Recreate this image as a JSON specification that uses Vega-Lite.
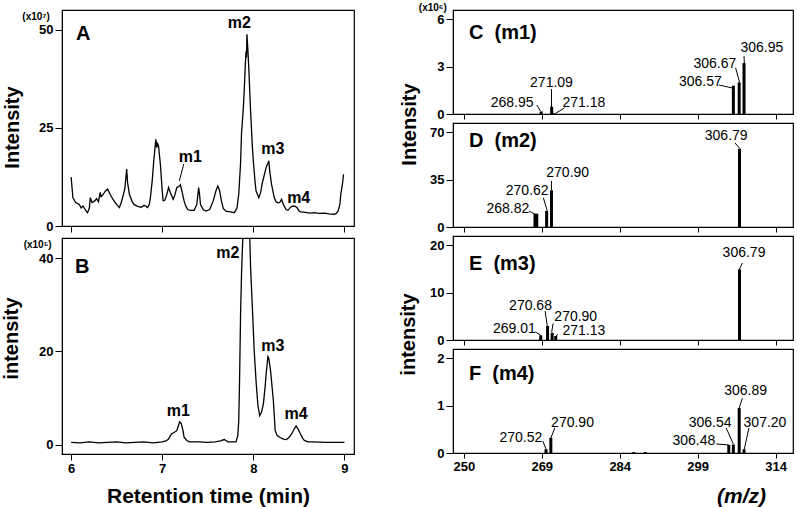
{
  "$schema": "https://vega.github.io/schema/vega-lite/v6.json",
  "background": "white",
  "padding": {"left": 0, "top": 2, "right": 0, "bottom": 0},
  "config": {
    "view": {"stroke": "black", "strokeWidth": 1.2},
    "axis": {"domainColor": "black", "tickColor": "black", "labelColor": "black", "titleColor": "black", "labelFont": "Liberation Sans", "titleFont": "Liberation Sans", "labelFontWeight": "bold", "labelFontSize": 13, "titleFontWeight": "bold", "titleFontSize": 20, "grid": false, "tickSize": 7, "labelPadding": 2},
    "text": {"font": "Liberation Sans", "color": "black"}
  },
  "datasets": {
    "trace": [
      {"panel":"A","x":6.00,"y":12.5},{"panel":"A","x":6.02,"y":7.2},{"panel":"A","x":6.05,"y":6.0},{"panel":"A","x":6.09,"y":5.5},{"panel":"A","x":6.11,"y":4.6},{"panel":"A","x":6.13,"y":5.1},{"panel":"A","x":6.16,"y":4.0},{"panel":"A","x":6.18,"y":3.4},{"panel":"A","x":6.20,"y":4.5},{"panel":"A","x":6.21,"y":7.2},{"panel":"A","x":6.23,"y":6.0},{"panel":"A","x":6.26,"y":6.4},{"panel":"A","x":6.28,"y":7.0},{"panel":"A","x":6.30,"y":6.2},{"panel":"A","x":6.32,"y":8.6},{"panel":"A","x":6.33,"y":7.5},{"panel":"A","x":6.35,"y":8.0},{"panel":"A","x":6.38,"y":9.0},{"panel":"A","x":6.40,"y":9.4},{"panel":"A","x":6.42,"y":8.5},{"panel":"A","x":6.44,"y":7.6},{"panel":"A","x":6.46,"y":6.8},{"panel":"A","x":6.49,"y":5.8},{"panel":"A","x":6.51,"y":5.2},{"panel":"A","x":6.53,"y":4.7},{"panel":"A","x":6.55,"y":6.0},{"panel":"A","x":6.57,"y":7.7},{"panel":"A","x":6.59,"y":9.5},{"panel":"A","x":6.61,"y":14.5},{"panel":"A","x":6.62,"y":11.0},{"panel":"A","x":6.64,"y":8.1},{"panel":"A","x":6.67,"y":6.2},{"panel":"A","x":6.69,"y":5.5},{"panel":"A","x":6.73,"y":5.0},{"panel":"A","x":6.77,"y":4.8},{"panel":"A","x":6.80,"y":5.3},{"panel":"A","x":6.84,"y":4.7},{"panel":"A","x":6.86,"y":5.6},{"panel":"A","x":6.87,"y":7.2},{"panel":"A","x":6.89,"y":11.5},{"panel":"A","x":6.91,"y":17.4},{"panel":"A","x":6.93,"y":22.1},{"panel":"A","x":6.94,"y":20.0},{"panel":"A","x":6.95,"y":21.0},{"panel":"A","x":6.96,"y":20.4},{"panel":"A","x":6.97,"y":18.0},{"panel":"A","x":6.98,"y":15.7},{"panel":"A","x":7.00,"y":9.0},{"panel":"A","x":7.01,"y":6.4},{"panel":"A","x":7.03,"y":6.6},{"panel":"A","x":7.05,"y":8.0},{"panel":"A","x":7.07,"y":9.8},{"panel":"A","x":7.09,"y":8.5},{"panel":"A","x":7.12,"y":6.8},{"panel":"A","x":7.14,"y":8.0},{"panel":"A","x":7.16,"y":9.8},{"panel":"A","x":7.18,"y":10.0},{"panel":"A","x":7.20,"y":10.5},{"panel":"A","x":7.22,"y":8.5},{"panel":"A","x":7.24,"y":6.4},{"panel":"A","x":7.26,"y":5.0},{"panel":"A","x":7.28,"y":4.2},{"panel":"A","x":7.31,"y":4.0},{"panel":"A","x":7.35,"y":4.0},{"panel":"A","x":7.38,"y":5.5},{"panel":"A","x":7.40,"y":9.8},{"panel":"A","x":7.41,"y":8.0},{"panel":"A","x":7.42,"y":5.5},{"panel":"A","x":7.45,"y":4.2},{"panel":"A","x":7.48,"y":3.8},{"panel":"A","x":7.52,"y":4.2},{"panel":"A","x":7.56,"y":6.4},{"panel":"A","x":7.59,"y":9.0},{"panel":"A","x":7.61,"y":10.2},{"panel":"A","x":7.63,"y":9.0},{"panel":"A","x":7.65,"y":6.4},{"panel":"A","x":7.67,"y":4.5},{"panel":"A","x":7.70,"y":3.8},{"panel":"A","x":7.75,"y":3.6},{"panel":"A","x":7.79,"y":3.4},{"panel":"A","x":7.82,"y":4.5},{"panel":"A","x":7.84,"y":8.1},{"panel":"A","x":7.86,"y":16.0},{"panel":"A","x":7.87,"y":23.4},{"panel":"A","x":7.89,"y":30.0},{"panel":"A","x":7.90,"y":34.4},{"panel":"A","x":7.91,"y":40.0},{"panel":"A","x":7.92,"y":44.6},{"panel":"A","x":7.925,"y":43.0},{"panel":"A","x":7.93,"y":48.9},{"panel":"A","x":7.94,"y":45.0},{"panel":"A","x":7.95,"y":40.4},{"panel":"A","x":7.97,"y":29.3},{"panel":"A","x":7.99,"y":20.0},{"panel":"A","x":8.00,"y":16.6},{"panel":"A","x":8.02,"y":11.0},{"panel":"A","x":8.03,"y":8.9},{"panel":"A","x":8.06,"y":7.2},{"panel":"A","x":8.08,"y":8.5},{"panel":"A","x":8.10,"y":11.1},{"panel":"A","x":8.12,"y":13.0},{"panel":"A","x":8.14,"y":14.9},{"panel":"A","x":8.16,"y":16.0},{"panel":"A","x":8.17,"y":16.6},{"panel":"A","x":8.18,"y":14.0},{"panel":"A","x":8.20,"y":10.6},{"panel":"A","x":8.23,"y":7.2},{"panel":"A","x":8.25,"y":6.2},{"panel":"A","x":8.27,"y":5.9},{"panel":"A","x":8.29,"y":6.0},{"panel":"A","x":8.31,"y":6.8},{"panel":"A","x":8.33,"y":5.5},{"panel":"A","x":8.36,"y":4.2},{"panel":"A","x":8.38,"y":4.0},{"panel":"A","x":8.41,"y":4.8},{"panel":"A","x":8.43,"y":5.1},{"panel":"A","x":8.46,"y":5.0},{"panel":"A","x":8.48,"y":4.7},{"panel":"A","x":8.50,"y":3.9},{"panel":"A","x":8.52,"y":3.6},{"panel":"A","x":8.57,"y":3.5},{"panel":"A","x":8.62,"y":3.3},{"panel":"A","x":8.67,"y":3.4},{"panel":"A","x":8.72,"y":3.2},{"panel":"A","x":8.78,"y":3.3},{"panel":"A","x":8.83,"y":3.1},{"panel":"A","x":8.89,"y":3.0},{"panel":"A","x":8.91,"y":3.2},{"panel":"A","x":8.93,"y":3.8},{"panel":"A","x":8.95,"y":5.5},{"panel":"A","x":8.96,"y":8.1},{"panel":"A","x":8.98,"y":11.0},{"panel":"A","x":8.99,"y":13.2},
      {"panel":"B","x":6.00,"y":0.5},{"panel":"B","x":6.1,"y":0.4},{"panel":"B","x":6.2,"y":0.6},{"panel":"B","x":6.3,"y":0.4},{"panel":"B","x":6.4,"y":0.5},{"panel":"B","x":6.5,"y":0.6},{"panel":"B","x":6.6,"y":0.4},{"panel":"B","x":6.7,"y":0.5},{"panel":"B","x":6.8,"y":0.6},{"panel":"B","x":6.9,"y":0.4},{"panel":"B","x":7.00,"y":0.6},{"panel":"B","x":7.04,"y":0.8},{"panel":"B","x":7.07,"y":1.2},{"panel":"B","x":7.10,"y":2.3},{"panel":"B","x":7.13,"y":2.6},{"panel":"B","x":7.16,"y":3.0},{"panel":"B","x":7.18,"y":4.2},{"panel":"B","x":7.19,"y":4.9},{"panel":"B","x":7.21,"y":4.5},{"panel":"B","x":7.23,"y":2.8},{"panel":"B","x":7.24,"y":1.6},{"panel":"B","x":7.27,"y":0.9},{"panel":"B","x":7.30,"y":0.6},{"panel":"B","x":7.40,"y":0.6},{"panel":"B","x":7.50,"y":0.5},{"panel":"B","x":7.58,"y":0.6},{"panel":"B","x":7.64,"y":0.8},{"panel":"B","x":7.68,"y":1.1},{"panel":"B","x":7.70,"y":0.9},{"panel":"B","x":7.72,"y":0.6},{"panel":"B","x":7.78,"y":0.6},{"panel":"B","x":7.81,"y":0.6},{"panel":"B","x":7.83,"y":2.0},{"panel":"B","x":7.84,"y":5.1},{"panel":"B","x":7.85,"y":15},{"panel":"B","x":7.86,"y":28},{"panel":"B","x":7.87,"y":36.3},{"panel":"B","x":7.88,"y":42},{"panel":"B","x":7.90,"y":52},{"panel":"B","x":7.92,"y":58},{"panel":"B","x":7.94,"y":55},{"panel":"B","x":7.96,"y":45},{"panel":"B","x":7.97,"y":38},{"panel":"B","x":7.99,"y":29.2},{"panel":"B","x":8.01,"y":20},{"panel":"B","x":8.03,"y":13.6},{"panel":"B","x":8.05,"y":8.5},{"panel":"B","x":8.07,"y":6.2},{"panel":"B","x":8.09,"y":7.0},{"panel":"B","x":8.11,"y":8.7},{"panel":"B","x":8.13,"y":12.5},{"panel":"B","x":8.14,"y":15.0},{"panel":"B","x":8.16,"y":18.9},{"panel":"B","x":8.17,"y":18.5},{"panel":"B","x":8.19,"y":15.7},{"panel":"B","x":8.21,"y":11.5},{"panel":"B","x":8.22,"y":9.4},{"panel":"B","x":8.24,"y":3.0},{"panel":"B","x":8.26,"y":2.0},{"panel":"B","x":8.29,"y":1.6},{"panel":"B","x":8.33,"y":1.2},{"panel":"B","x":8.36,"y":1.1},{"panel":"B","x":8.39,"y":1.5},{"panel":"B","x":8.42,"y":2.3},{"panel":"B","x":8.45,"y":3.4},{"panel":"B","x":8.47,"y":4.0},{"panel":"B","x":8.49,"y":3.4},{"panel":"B","x":8.51,"y":2.6},{"panel":"B","x":8.54,"y":1.4},{"panel":"B","x":8.56,"y":0.9},{"panel":"B","x":8.60,"y":0.6},{"panel":"B","x":8.65,"y":0.6},{"panel":"B","x":8.8,"y":0.5},{"panel":"B","x":9.0,"y":0.5}
    ],
    "bars": [
      {"panel":"C","x":268.89,"y":0.16},{"panel":"C","x":270.91,"y":0.46},{"panel":"C","x":271.50,"y":0.05},{"panel":"C","x":305.86,"y":1.79},{"panel":"C","x":306.98,"y":2.0},{"panel":"C","x":307.91,"y":3.22},
      {"panel":"D","x":267.7,"y":9.85},{"panel":"D","x":268.05,"y":9.85},{"panel":"D","x":269.94,"y":11.85},{"panel":"D","x":270.87,"y":27.2},{"panel":"D","x":307.04,"y":58.0},
      {"panel":"E","x":268.81,"y":1.0},{"panel":"E","x":270.12,"y":2.96},{"panel":"E","x":271.0,"y":1.54},{"panel":"E","x":271.69,"y":0.85},{"panel":"E","x":307.04,"y":14.96},
      {"panel":"F","x":269.82,"y":0.08},{"panel":"F","x":270.75,"y":0.32},{"panel":"F","x":286.7,"y":0.02},{"panel":"F","x":288.9,"y":0.02},{"panel":"F","x":304.98,"y":0.17},{"panel":"F","x":305.86,"y":0.18},{"panel":"F","x":306.98,"y":0.95},{"panel":"F","x":307.91,"y":0.08}
    ],
    "txt": [
      {"panel":"A","kind":"panel","x":6.054,"y":48.9,"label":"A"},
      {"panel":"A","kind":"peak","x":7.846,"y":51.9,"label":"m2"},
      {"panel":"A","kind":"peak","x":7.308,"y":17.6,"label":"m1"},
      {"panel":"A","kind":"peak","x":8.213,"y":19.6,"label":"m3"},
      {"panel":"A","kind":"peak","x":8.498,"y":7.2,"label":"m4"},
      {"panel":"A","kind":"mult","x":5.615,"y":53.3,"label":"(x10⁷)"},
      {"panel":"B","kind":"panel","x":6.043,"y":38.0,"label":"B"},
      {"panel":"B","kind":"peak","x":7.719,"y":41.0,"label":"m2"},
      {"panel":"B","kind":"peak","x":7.177,"y":7.3,"label":"m1"},
      {"panel":"B","kind":"peak","x":8.213,"y":21.2,"label":"m3"},
      {"panel":"B","kind":"peak","x":8.469,"y":6.6,"label":"m4"},
      {"panel":"B","kind":"mult","x":5.633,"y":42.8,"label":"(x10⁵)"},
      {"panel":"C","kind":"panel","x":255.0,"y":5.14,"label":"C \u00a0(m1)"},
      {"panel":"C","kind":"mult","x":248.04,"y":6.71,"label":"(x10⁶)"},
      {"panel":"C","kind":"mz","x":263.29,"y":0.71,"label":"268.95"},
      {"panel":"C","kind":"mz","x":270.87,"y":1.98,"label":"271.09"},
      {"panel":"C","kind":"mz","x":277.11,"y":0.68,"label":"271.18"},
      {"panel":"C","kind":"mz","x":299.51,"y":2.02,"label":"306.57"},
      {"panel":"C","kind":"mz","x":302.31,"y":3.18,"label":"306.67"},
      {"panel":"C","kind":"mz","x":311.33,"y":4.19,"label":"306.95"},
      {"panel":"D","kind":"panel","x":255.0,"y":63.7,"label":"D \u00a0(m2)"},
      {"panel":"D","kind":"mz","x":262.47,"y":13.1,"label":"268.82"},
      {"panel":"D","kind":"mz","x":266.20,"y":26.65,"label":"270.62"},
      {"panel":"D","kind":"mz","x":273.99,"y":40.2,"label":"270.90"},
      {"panel":"D","kind":"mz","x":304.48,"y":67.4,"label":"306.79"},
      {"panel":"E","kind":"panel","x":255.0,"y":16.0,"label":"E \u00a0(m3)"},
      {"panel":"E","kind":"mz","x":263.72,"y":2.26,"label":"269.01"},
      {"panel":"E","kind":"mz","x":266.84,"y":7.19,"label":"270.68"},
      {"panel":"E","kind":"mz","x":275.54,"y":4.85,"label":"270.90"},
      {"panel":"E","kind":"mz","x":277.11,"y":1.80,"label":"271.13"},
      {"panel":"E","kind":"mz","x":307.91,"y":18.47,"label":"306.79"},
      {"panel":"F","kind":"panel","x":255.0,"y":1.67,"label":"F \u00a0(m4)"},
      {"panel":"F","kind":"mz","x":264.97,"y":0.324,"label":"270.52"},
      {"panel":"F","kind":"mz","x":274.92,"y":0.641,"label":"270.90"},
      {"panel":"F","kind":"mz","x":298.26,"y":0.254,"label":"306.48"},
      {"panel":"F","kind":"mz","x":301.38,"y":0.641,"label":"306.54"},
      {"panel":"F","kind":"mz","x":308.21,"y":1.31,"label":"306.89"},
      {"panel":"F","kind":"mz","x":311.94,"y":0.641,"label":"307.20"}
    ],
    "lead": [
      {"panel":"A","x":7.236,"y":15.8,"x2":7.188,"y2":11.5},
      {"panel":"C","x":268.05,"y":0.57,"x2":268.74,"y2":0.19},
      {"panel":"C","x":270.87,"y":1.58,"x2":270.87,"y2":0.44},
      {"panel":"C","x":273.37,"y":0.38,"x2":271.75,"y2":0.06},
      {"panel":"C","x":303.11,"y":1.83,"x2":305.73,"y2":1.64},
      {"panel":"C","x":306.29,"y":2.92,"x2":307.04,"y2":2.02},
      {"panel":"C","x":307.91,"y":3.66,"x2":307.97,"y2":3.22},
      {"panel":"D","x":266.52,"y":11.85,"x2":267.64,"y2":9.63},
      {"panel":"D","x":269.32,"y":21.47,"x2":270.07,"y2":11.85},
      {"panel":"D","x":270.87,"y":34.06,"x2":270.87,"y2":27.4},
      {"panel":"D","x":306.16,"y":62.2,"x2":307.04,"y2":58.5},
      {"panel":"E","x":267.77,"y":1.69,"x2":268.76,"y2":1.06},
      {"panel":"E","x":269.64,"y":6.13,"x2":270.07,"y2":2.96},
      {"panel":"E","x":271.19,"y":3.5,"x2":270.91,"y2":1.69},
      {"panel":"E","x":272.12,"y":1.2,"x2":271.75,"y2":0.85},
      {"panel":"E","x":307.6,"y":16.29,"x2":307.04,"y2":15.02},
      {"panel":"F","x":269.19,"y":0.254,"x2":269.82,"y2":0.085},
      {"panel":"F","x":271.50,"y":0.529,"x2":270.76,"y2":0.317},
      {"panel":"F","x":302.61,"y":0.19,"x2":304.98,"y2":0.17},
      {"panel":"F","x":304.48,"y":0.529,"x2":305.86,"y2":0.19},
      {"panel":"F","x":307.6,"y":1.16,"x2":306.98,"y2":0.95},
      {"panel":"F","x":308.85,"y":0.529,"x2":307.97,"y2":0.085}
    ]
  },
  "bounds": "flush",
  "spacing": 391,
  "hconcat": [
    {
      "bounds": "flush",
      "spacing": 12,
      "vconcat": [
        {
          "width": 292, "height": 216,
          "encoding": {
            "x": {"field": "x", "type": "quantitative", "scale": {"domain": [5.9, 9.105], "nice": false, "zero": false}, "axis": {"values": [6, 7, 8, 9], "labels": false, "title": null, "tickSize": 6}},
            "y": {"field": "y", "type": "quantitative", "scale": {"domain": [0, 55.1], "nice": false}, "axis": {"values": [0, 25, 50], "title": "Intensity", "titleX": -40, "titleY": 117, "titleBaseline": "bottom"}}
          },
          "layer": [
            {"data": {"name": "trace"}, "transform": [{"filter": "datum.panel === 'A'"}], "mark": {"type": "line", "color": "black", "strokeWidth": 1.3, "clip": true}},
            {"data": {"name": "lead"}, "transform": [{"filter": "datum.panel === 'A'"}], "mark": {"type": "rule", "color": "black", "strokeWidth": 1}, "encoding": {"x2": {"field": "x2"}, "y2": {"field": "y2"}}},
            {"data": {"name": "txt"}, "transform": [{"filter": "datum.panel === 'A' && datum.kind === 'panel'"}], "mark": {"type": "text", "align": "left", "baseline": "middle", "fontSize": 20, "fontWeight": "bold"}, "encoding": {"text": {"field": "label"}}},
            {"data": {"name": "txt"}, "transform": [{"filter": "datum.panel === 'A' && datum.kind === 'peak'"}], "mark": {"type": "text", "align": "center", "baseline": "middle", "fontSize": 16, "fontWeight": "bold"}, "encoding": {"text": {"field": "label"}}},
            {"data": {"name": "txt"}, "transform": [{"filter": "datum.panel === 'A' && datum.kind === 'mult'"}], "mark": {"type": "text", "align": "center", "baseline": "middle", "fontSize": 10, "fontWeight": "bold"}, "encoding": {"text": {"field": "label"}}}
          ]
        },
        {
          "width": 292, "height": 216,
          "encoding": {
            "x": {"field": "x", "type": "quantitative", "scale": {"domain": [5.9, 9.105], "nice": false, "zero": false}, "axis": {"values": [6, 7, 8, 9], "title": "Retention time (min)", "tickSize": 6, "titleFontSize": 21, "titleY": 42, "titleBaseline": "middle"}},
            "y": {"field": "y", "type": "quantitative", "scale": {"domain": [-2, 44.3], "nice": false, "zero": false}, "axis": {"values": [0, 20, 40], "title": "intensity", "titleX": -41, "titleY": 100, "titleBaseline": "bottom"}}
          },
          "layer": [
            {"data": {"name": "trace"}, "transform": [{"filter": "datum.panel === 'B'"}], "mark": {"type": "line", "color": "black", "strokeWidth": 1.3, "clip": true}},
            {"data": {"name": "txt"}, "transform": [{"filter": "datum.panel === 'B' && datum.kind === 'panel'"}], "mark": {"type": "text", "align": "left", "baseline": "middle", "fontSize": 20, "fontWeight": "bold"}, "encoding": {"text": {"field": "label"}}},
            {"data": {"name": "txt"}, "transform": [{"filter": "datum.panel === 'B' && datum.kind === 'peak'"}], "mark": {"type": "text", "align": "center", "baseline": "middle", "fontSize": 16, "fontWeight": "bold"}, "encoding": {"text": {"field": "label"}}},
            {"data": {"name": "txt"}, "transform": [{"filter": "datum.panel === 'B' && datum.kind === 'mult'"}], "mark": {"type": "text", "align": "center", "baseline": "middle", "fontSize": 10, "fontWeight": "bold"}, "encoding": {"text": {"field": "label"}}}
          ]
        }
      ]
    },
    {
      "bounds": "flush",
      "spacing": 9,
      "vconcat": [
        {
          "width": 340, "height": 104,
          "encoding": {
            "x": {"field": "x", "type": "quantitative", "scale": {"domain": [252.89, 316.37], "nice": false, "zero": false}, "axis": {"values": [254, 269, 284, 299, 314], "labels": false, "title": null, "tickSize": 5}},
            "y": {"field": "y", "type": "quantitative", "scale": {"domain": [0, 6.57], "nice": false}, "axis": {"values": [0, 3, 6], "title": "Intensity", "titleX": -34, "titleY": 114, "titleBaseline": "bottom"}}
          },
          "layer": [
            {"data": {"name": "bars"}, "transform": [{"filter": "datum.panel === 'C'"}], "mark": {"type": "bar", "color": "black", "size": 3}},
            {"data": {"name": "lead"}, "transform": [{"filter": "datum.panel === 'C'"}], "mark": {"type": "rule", "color": "black", "strokeWidth": 1}, "encoding": {"x2": {"field": "x2"}, "y2": {"field": "y2"}}},
            {"data": {"name": "txt"}, "transform": [{"filter": "datum.panel === 'C' && datum.kind === 'panel'"}], "mark": {"type": "text", "align": "left", "baseline": "middle", "fontSize": 20, "fontWeight": "bold"}, "encoding": {"text": {"field": "label"}}},
            {"data": {"name": "txt"}, "transform": [{"filter": "datum.panel === 'C' && datum.kind === 'mz'"}], "mark": {"type": "text", "align": "center", "baseline": "middle", "fontSize": 14}, "encoding": {"text": {"field": "label"}}},
            {"data": {"name": "txt"}, "transform": [{"filter": "datum.panel === 'C' && datum.kind === 'mult'"}], "mark": {"type": "text", "align": "center", "baseline": "middle", "fontSize": 10, "fontWeight": "bold"}, "encoding": {"text": {"field": "label"}}}
          ]
        },
        {
          "width": 340, "height": 104,
          "encoding": {
            "x": {"field": "x", "type": "quantitative", "scale": {"domain": [252.89, 316.37], "nice": false, "zero": false}, "axis": {"values": [254, 269, 284, 299, 314], "labels": false, "title": null, "tickSize": 5}},
            "y": {"field": "y", "type": "quantitative", "scale": {"domain": [0, 77], "nice": false}, "axis": {"values": [0, 35, 70], "title": null}}
          },
          "layer": [
            {"data": {"name": "bars"}, "transform": [{"filter": "datum.panel === 'D'"}], "mark": {"type": "bar", "color": "black", "size": 3}},
            {"data": {"name": "lead"}, "transform": [{"filter": "datum.panel === 'D'"}], "mark": {"type": "rule", "color": "black", "strokeWidth": 1}, "encoding": {"x2": {"field": "x2"}, "y2": {"field": "y2"}}},
            {"data": {"name": "txt"}, "transform": [{"filter": "datum.panel === 'D' && datum.kind === 'panel'"}], "mark": {"type": "text", "align": "left", "baseline": "middle", "fontSize": 20, "fontWeight": "bold"}, "encoding": {"text": {"field": "label"}}},
            {"data": {"name": "txt"}, "transform": [{"filter": "datum.panel === 'D' && datum.kind === 'mz'"}], "mark": {"type": "text", "align": "center", "baseline": "middle", "fontSize": 14}, "encoding": {"text": {"field": "label"}}}
          ]
        },
        {
          "width": 340, "height": 104,
          "encoding": {
            "x": {"field": "x", "type": "quantitative", "scale": {"domain": [252.89, 316.37], "nice": false, "zero": false}, "axis": {"values": [254, 269, 284, 299, 314], "labels": false, "title": null, "tickSize": 5}},
            "y": {"field": "y", "type": "quantitative", "scale": {"domain": [0, 22], "nice": false}, "axis": {"values": [0, 10, 20], "title": "intensity", "titleX": -35, "titleY": 98, "titleBaseline": "bottom"}}
          },
          "layer": [
            {"data": {"name": "bars"}, "transform": [{"filter": "datum.panel === 'E'"}], "mark": {"type": "bar", "color": "black", "size": 3}},
            {"data": {"name": "lead"}, "transform": [{"filter": "datum.panel === 'E'"}], "mark": {"type": "rule", "color": "black", "strokeWidth": 1}, "encoding": {"x2": {"field": "x2"}, "y2": {"field": "y2"}}},
            {"data": {"name": "txt"}, "transform": [{"filter": "datum.panel === 'E' && datum.kind === 'panel'"}], "mark": {"type": "text", "align": "left", "baseline": "middle", "fontSize": 20, "fontWeight": "bold"}, "encoding": {"text": {"field": "label"}}},
            {"data": {"name": "txt"}, "transform": [{"filter": "datum.panel === 'E' && datum.kind === 'mz'"}], "mark": {"type": "text", "align": "center", "baseline": "middle", "fontSize": 14}, "encoding": {"text": {"field": "label"}}}
          ]
        },
        {
          "width": 340, "height": 104,
          "encoding": {
            "x": {"field": "x", "type": "quantitative", "scale": {"domain": [252.89, 316.37], "nice": false, "zero": false}, "axis": {"values": [254, 269, 284, 299, 314], "labelExpr": "datum.value == 254 ? '250' : datum.label", "title": "(m/z)", "titleFontSize": 21, "titleFontStyle": "italic", "titleX": 288, "titleY": 43, "titleBaseline": "middle", "tickSize": 5}},
            "y": {"field": "y", "type": "quantitative", "scale": {"domain": [0, 2.2], "nice": false}, "axis": {"values": [0, 1, 2], "title": null}}
          },
          "layer": [
            {"data": {"name": "bars"}, "transform": [{"filter": "datum.panel === 'F'"}], "mark": {"type": "bar", "color": "black", "size": 3}},
            {"data": {"name": "lead"}, "transform": [{"filter": "datum.panel === 'F'"}], "mark": {"type": "rule", "color": "black", "strokeWidth": 1}, "encoding": {"x2": {"field": "x2"}, "y2": {"field": "y2"}}},
            {"data": {"name": "txt"}, "transform": [{"filter": "datum.panel === 'F' && datum.kind === 'panel'"}], "mark": {"type": "text", "align": "left", "baseline": "middle", "fontSize": 20, "fontWeight": "bold"}, "encoding": {"text": {"field": "label"}}},
            {"data": {"name": "txt"}, "transform": [{"filter": "datum.panel === 'F' && datum.kind === 'mz'"}], "mark": {"type": "text", "align": "center", "baseline": "middle", "fontSize": 14}, "encoding": {"text": {"field": "label"}}}
          ]
        }
      ]
    }
  ]
}
